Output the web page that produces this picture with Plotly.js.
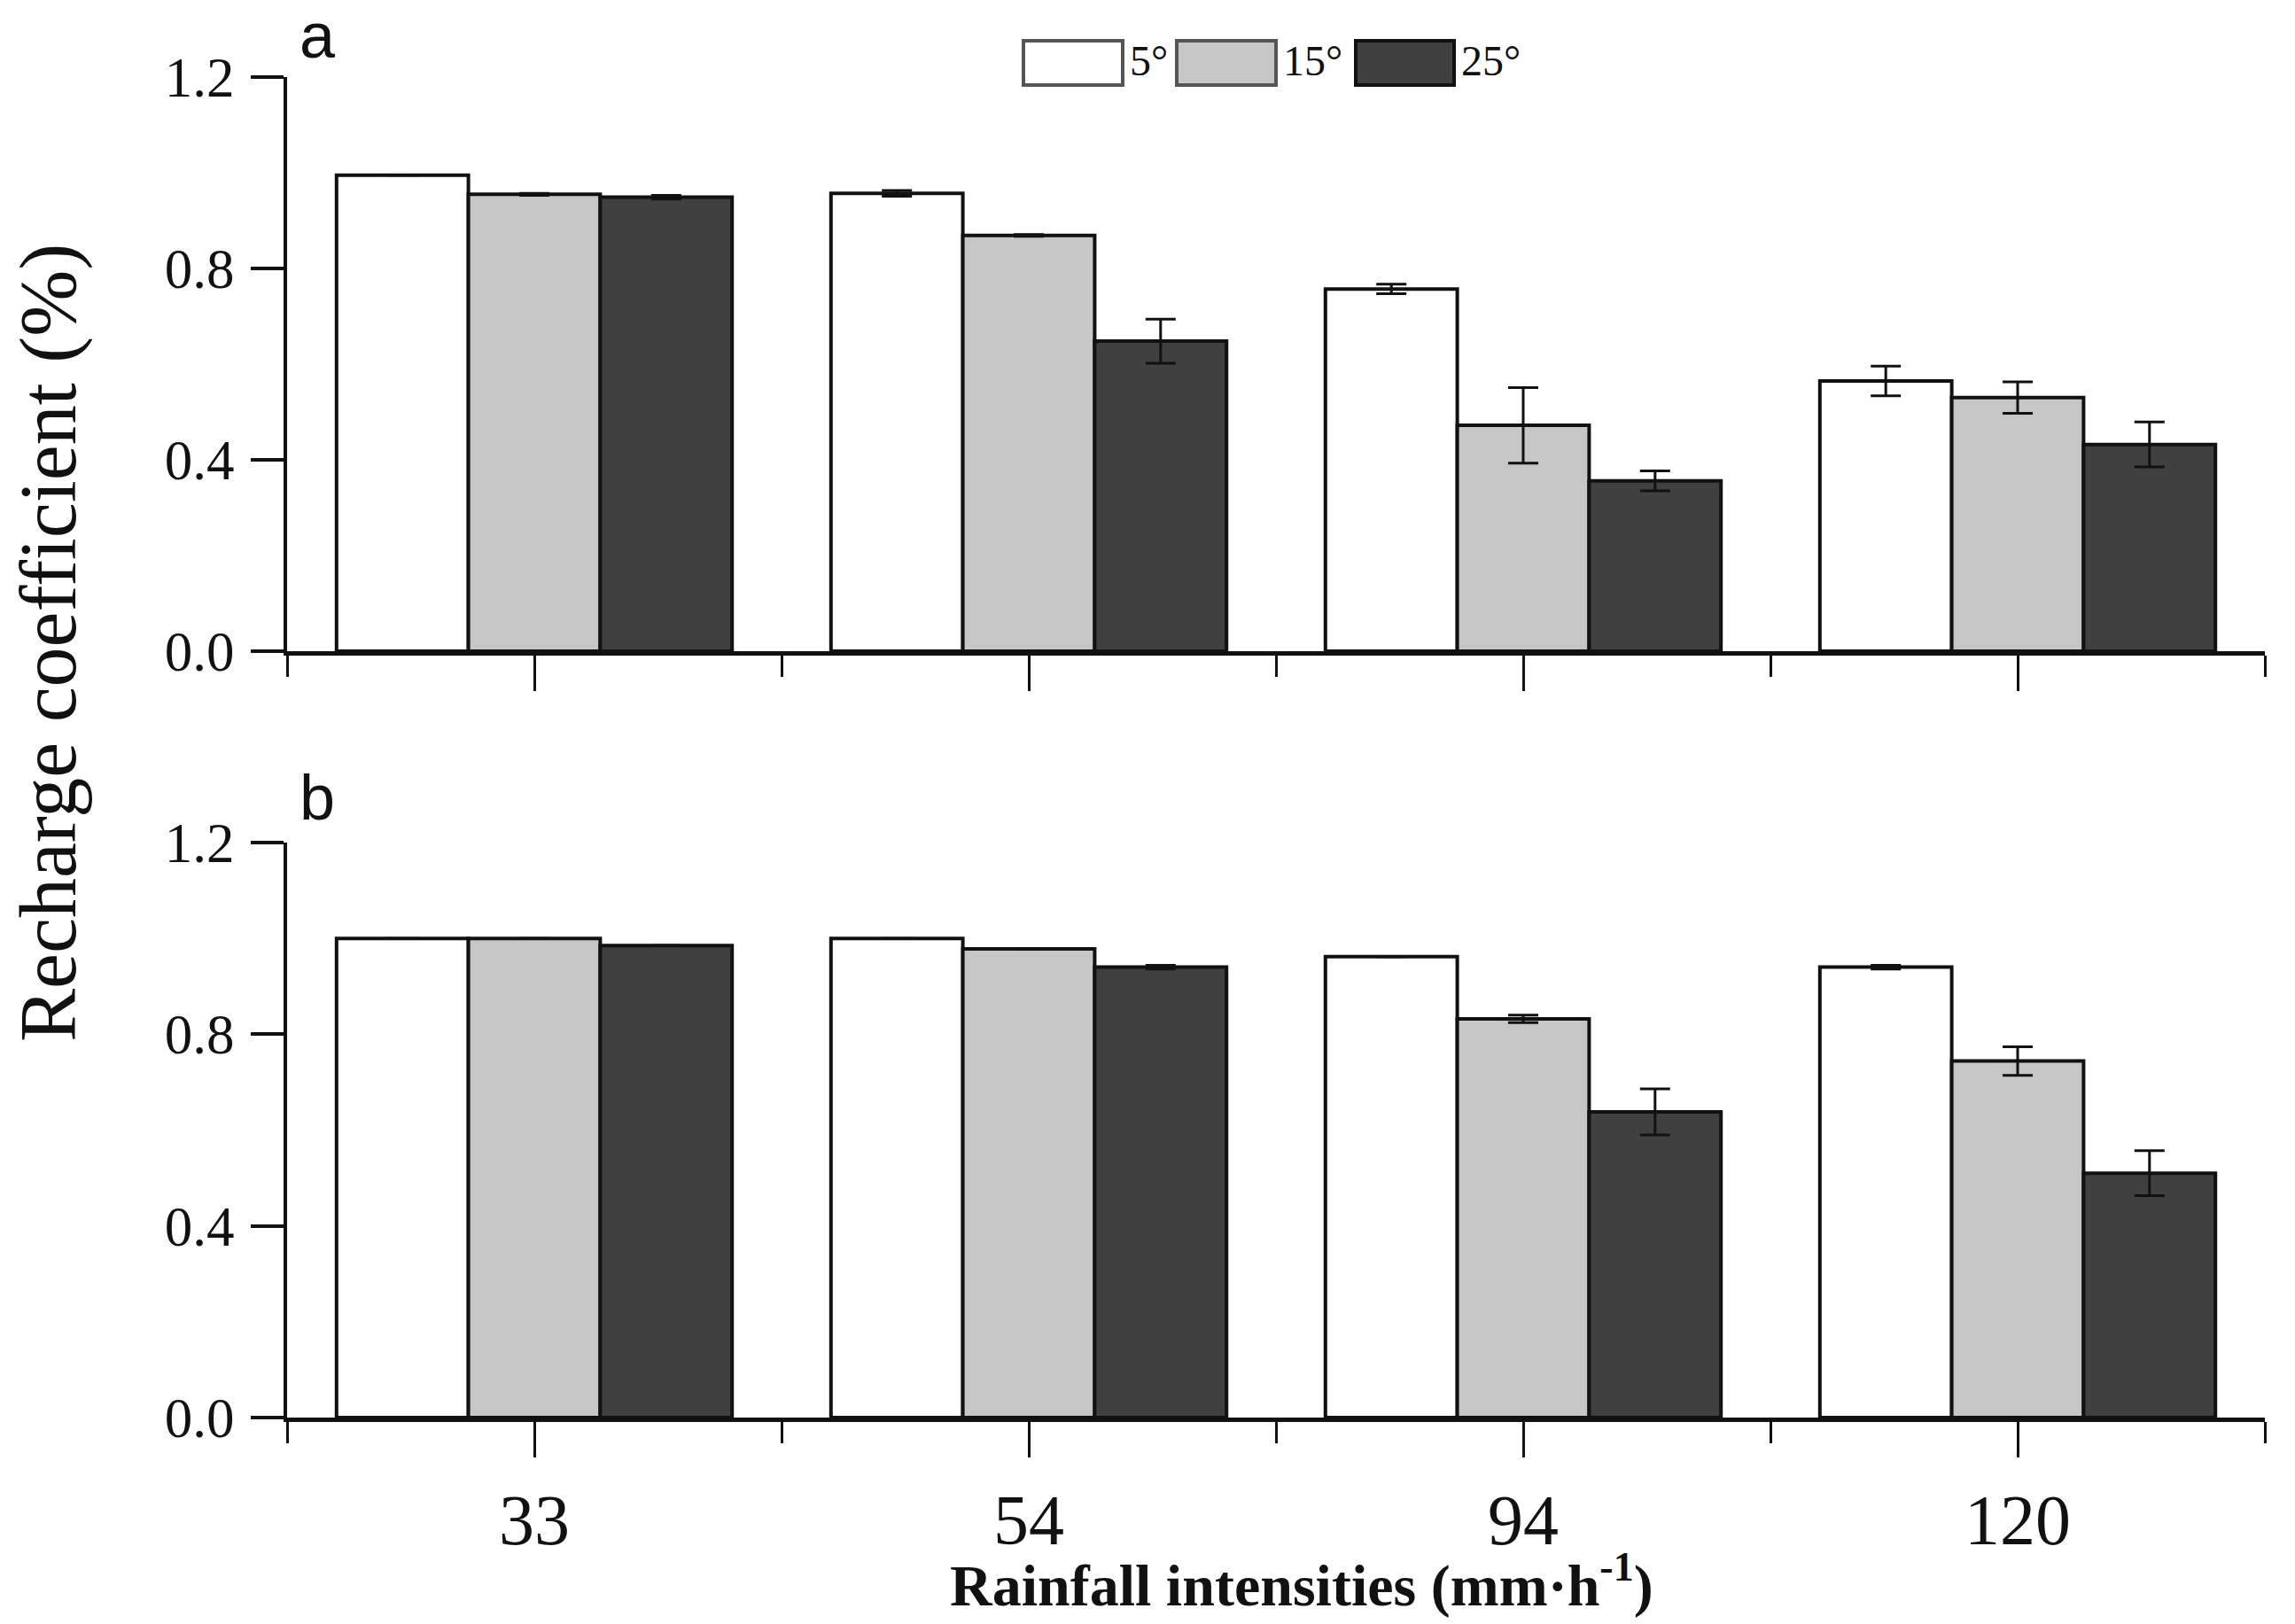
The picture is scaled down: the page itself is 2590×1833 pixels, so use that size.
<!DOCTYPE html>
<html>
<head>
<meta charset="utf-8">
<script src="https://cdn.plot.ly/plotly-3.0.1.min.js"></script>
<style>html,body{margin:0;padding:0;background:#fff;}#chart{width:2590px;height:1833px;}</style>
</head>
<body>
<div id="chart"></div>
<script>
// ---------- data ----------
const categories = ['33', '54', '94', '120'];
const seriesNames = ['5°', '15°', '25°'];
const seriesColors = ['#ffffff', '#c6c6c6', '#404040'];

// panel a
const a5  = [0.995, 0.957, 0.757, 0.565];
const a15 = [0.955, 0.869, 0.472, 0.530];
const a25 = [0.949, 0.648, 0.356, 0.432];
const a5err  = [0.000, 0.006, 0.010, 0.031];
const a15err = [0.002, 0.002, 0.079, 0.033];
const a25err = [0.004, 0.046, 0.021, 0.047];

// panel b
const b5  = [1.000, 1.000, 0.962, 0.940];
const b15 = [1.000, 0.978, 0.832, 0.744];
const b25 = [0.985, 0.940, 0.638, 0.510];
const b5err  = [0.000, 0.000, 0.000, 0.004];
const b15err = [0.000, 0.000, 0.008, 0.030];
const b25err = [0.000, 0.004, 0.048, 0.047];

const yTickVals = [0, 0.4, 0.8, 1.2];
const yTickText = ['0.0', '0.4', '0.8', '1.2'];
const panelLabels = ['a', 'b'];
const yTitle = 'Recharge coefficient (%)';
const xTitle = '<b>Rainfall intensities (mm·h<sup>-1</sup>)</b>';

// ---------- layout geometry ----------
const W = 2590, H = 1833;
const mL = 324, mR = 34, mT = 87, mB = 233;
const PW = W - mL - mR, PH = H - mT - mB;
const px = v => (v - mL) / PW;            // pixel x -> paper
const py = v => (H - mB - v) / PH;        // pixel y -> paper

const xPos = categories.map((_, i) => i + 1);
const boundaries = [0.5].concat(categories.map((_, i) => i + 1.5));

const serif = 'Liberation Serif, Times New Roman, serif';

function barTrace(vals, errs, k, xa, ya) {
  return {
    type: 'bar', x: xPos, y: vals, name: seriesNames[k],
    xaxis: xa, yaxis: ya, showlegend: false,
    marker: {color: seriesColors[k], line: {color: '#111', width: 4}},
    error_y: {type: 'data', array: errs, visible: true, color: '#111', thickness: 3, width: 17},
    hoverinfo: 'x+y'
  };
}

const data = [
  barTrace(a5, a5err, 0, 'x2', 'y2'),
  barTrace(a15, a15err, 1, 'x2', 'y2'),
  barTrace(a25, a25err, 2, 'x2', 'y2'),
  barTrace(b5, b5err, 0, 'x', 'y'),
  barTrace(b15, b15err, 1, 'x', 'y'),
  barTrace(b25, b25err, 2, 'x', 'y')
];

function xAxis(anchor, showLabels) {
  return {
    anchor: anchor, domain: [0, 1], range: [0.5, categories.length + 0.5],
    tickmode: 'array', tickvals: xPos, ticktext: categories,
    showticklabels: showLabels,
    ticks: 'outside', ticklen: 40, tickwidth: 3, tickcolor: '#111',
    minor: {tickmode: 'array', tickvals: boundaries, ticks: 'outside', ticklen: 24, tickwidth: 3, tickcolor: '#111', showgrid: false},
    ticklabelstandoff: 2,
    showline: true, linewidth: 5, linecolor: '#111',
    showgrid: false, zeroline: false, fixedrange: true,
    tickfont: {family: serif, size: 80, color: '#111'}
  };
}
function yAxis(anchor, domain) {
  return {
    anchor: anchor, domain: domain, range: [0, 1.2],
    tickmode: 'array', tickvals: yTickVals, ticktext: yTickText,
    ticks: 'outside', ticklen: 37, tickwidth: 4, tickcolor: '#111',
    ticklabelstandoff: 6,
    showline: true, linewidth: 4, linecolor: '#111',
    showgrid: false, zeroline: false, fixedrange: true,
    tickfont: {family: serif, size: 63, color: '#111'}
  };
}

// legend (manual, large swatches)
const legendBoxes = [[1155, 1267], [1328, 1440], [1530, 1641]];
const legendBorder = ['#555', '#555', '#111'];
const shapes = legendBoxes.map((b, k) => ({
  type: 'rect', xref: 'paper', yref: 'paper',
  x0: px(b[0]), x1: px(b[1]), y0: py(96), y1: py(46),
  fillcolor: seriesColors[k], line: {color: legendBorder[k], width: 4}
}));

const annotations = [];
seriesNames.forEach((n, k) => {
  annotations.push({
    xref: 'paper', yref: 'paper', x: px(legendBoxes[k][1] + 6), y: py(68),
    xanchor: 'left', yanchor: 'middle', showarrow: false, text: n,
    font: {family: serif, size: 48, color: '#111'}
  });
});
// panel labels
annotations.push({xref: 'paper', yref: 'paper', x: px(358), y: py(40), xanchor: 'center', yanchor: 'middle',
  showarrow: false, text: panelLabels[0], font: {family: 'Liberation Sans, Arial, sans-serif', size: 72, color: '#111'}});
annotations.push({xref: 'paper', yref: 'paper', x: px(358), y: py(900), xanchor: 'center', yanchor: 'middle',
  showarrow: false, text: panelLabels[1], font: {family: 'Liberation Sans, Arial, sans-serif', size: 72, color: '#111'}});
// axis titles
annotations.push({xref: 'paper', yref: 'paper', x: px(55), y: py(726), xanchor: 'center', yanchor: 'middle',
  showarrow: false, text: yTitle, textangle: -90, font: {family: serif, size: 90, color: '#111'}});
annotations.push({xref: 'paper', yref: 'paper', x: px(1469), y: py(1785), xanchor: 'center', yanchor: 'middle',
  showarrow: false, text: xTitle, font: {family: serif, size: 66, color: '#111'}});

const layout = {
  width: W, height: H,
  margin: {l: mL, r: mR, t: mT, b: mB, pad: 0},
  paper_bgcolor: '#ffffff', plot_bgcolor: '#ffffff',
  barmode: 'group', bargap: 0.2, bargroupgap: 0,
  showlegend: false,
  xaxis: xAxis('y', true),
  xaxis2: Object.assign(xAxis('y2', false), {matches: 'x'}),
  yaxis: yAxis('x', [0, py(951)]),
  yaxis2: yAxis('x2', [py(735), 1]),
  shapes: shapes,
  annotations: annotations
};

Plotly.newPlot('chart', data, layout, {staticPlot: true, displayModeBar: false});
</script>
</body>
</html>
